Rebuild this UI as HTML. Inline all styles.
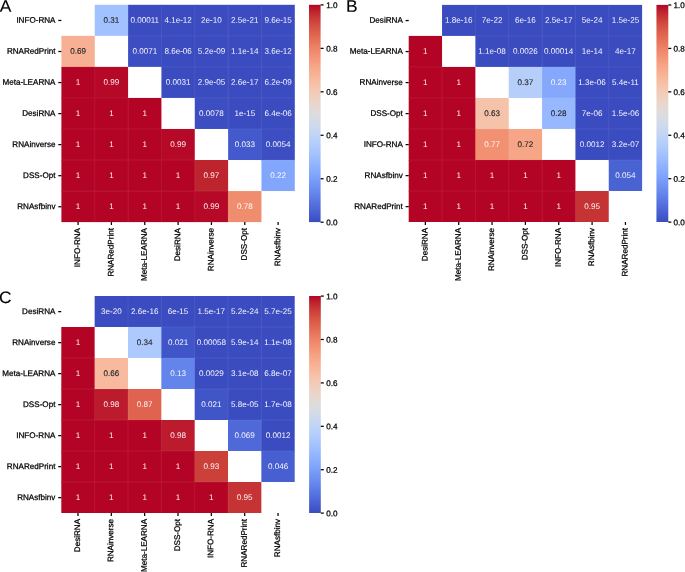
<!DOCTYPE html>
<html><head><meta charset="utf-8"><title>heatmaps</title>
<style>
html,body{margin:0;padding:0;background:#fff;}
body{width:685px;height:572px;overflow:hidden;font-family:"Liberation Sans",sans-serif;}
svg{display:block;text-rendering:geometricPrecision;font-family:"Liberation Sans",sans-serif;font-size:8.10px;}
</style></head><body>
<svg width="685" height="572" viewBox="0 0 685 572">
<defs><filter id="nf" x="0" y="0" width="685" height="572" filterUnits="userSpaceOnUse" color-interpolation-filters="sRGB"><feOffset dx="0" dy="0"/></filter><linearGradient id="cw" x1="0" y1="0" x2="0" y2="1"><stop offset="0.0000" stop-color="#b40426"/><stop offset="0.0312" stop-color="#be242e"/><stop offset="0.0625" stop-color="#ca3b37"/><stop offset="0.0938" stop-color="#d44e41"/><stop offset="0.1250" stop-color="#dd5f4b"/><stop offset="0.1562" stop-color="#e46e56"/><stop offset="0.1875" stop-color="#eb7d62"/><stop offset="0.2188" stop-color="#f08b6e"/><stop offset="0.2500" stop-color="#f4987a"/><stop offset="0.2812" stop-color="#f6a586"/><stop offset="0.3125" stop-color="#f7b093"/><stop offset="0.3438" stop-color="#f7ba9f"/><stop offset="0.3750" stop-color="#f5c4ac"/><stop offset="0.4062" stop-color="#f1ccb8"/><stop offset="0.4375" stop-color="#ecd3c5"/><stop offset="0.4688" stop-color="#e5d8d1"/><stop offset="0.5000" stop-color="#dddcdc"/><stop offset="0.5312" stop-color="#d5dbe5"/><stop offset="0.5625" stop-color="#ccd9ed"/><stop offset="0.5938" stop-color="#c3d5f4"/><stop offset="0.6250" stop-color="#b9d0f9"/><stop offset="0.6562" stop-color="#aec9fc"/><stop offset="0.6875" stop-color="#a3c2fe"/><stop offset="0.7188" stop-color="#98b9ff"/><stop offset="0.7500" stop-color="#8db0fe"/><stop offset="0.7812" stop-color="#82a6fb"/><stop offset="0.8125" stop-color="#779af7"/><stop offset="0.8438" stop-color="#6c8ff1"/><stop offset="0.8750" stop-color="#6282ea"/><stop offset="0.9062" stop-color="#5875e1"/><stop offset="0.9375" stop-color="#4e68d8"/><stop offset="0.9688" stop-color="#445acc"/><stop offset="1.0000" stop-color="#3b4cc0"/></linearGradient></defs>
<rect x="0" y="0" width="685" height="572" fill="#ffffff"/>
<g filter="url(#nf)">
<rect x="94.74" y="4.80" width="33.94" height="31.04" fill="#a2c1ff"/>
<rect x="128.09" y="4.80" width="33.94" height="31.64" fill="#3b4cc0"/>
<rect x="161.43" y="4.80" width="33.94" height="31.64" fill="#3b4cc0"/>
<rect x="194.77" y="4.80" width="33.94" height="31.64" fill="#3b4cc0"/>
<rect x="228.11" y="4.80" width="33.94" height="31.64" fill="#3b4cc0"/>
<rect x="261.46" y="4.80" width="33.34" height="31.64" fill="#3b4cc0"/>
<rect x="61.40" y="35.84" width="33.34" height="31.64" fill="#f7b093"/>
<rect x="128.09" y="35.84" width="33.94" height="31.04" fill="#3c4ec2"/>
<rect x="161.43" y="35.84" width="33.94" height="31.64" fill="#3b4cc0"/>
<rect x="194.77" y="35.84" width="33.94" height="31.64" fill="#3b4cc0"/>
<rect x="228.11" y="35.84" width="33.94" height="31.64" fill="#3b4cc0"/>
<rect x="261.46" y="35.84" width="33.34" height="31.64" fill="#3b4cc0"/>
<rect x="61.40" y="66.89" width="33.94" height="31.64" fill="#b40426"/>
<rect x="94.74" y="66.89" width="33.34" height="31.64" fill="#b50927"/>
<rect x="161.43" y="66.89" width="33.94" height="31.04" fill="#3b4cc0"/>
<rect x="194.77" y="66.89" width="33.94" height="31.64" fill="#3b4cc0"/>
<rect x="228.11" y="66.89" width="33.94" height="31.64" fill="#3b4cc0"/>
<rect x="261.46" y="66.89" width="33.34" height="31.64" fill="#3b4cc0"/>
<rect x="61.40" y="97.93" width="33.94" height="31.64" fill="#b40426"/>
<rect x="94.74" y="97.93" width="33.94" height="31.64" fill="#b40426"/>
<rect x="128.09" y="97.93" width="33.34" height="31.64" fill="#b40426"/>
<rect x="194.77" y="97.93" width="33.94" height="31.04" fill="#3c4ec2"/>
<rect x="228.11" y="97.93" width="33.94" height="31.64" fill="#3b4cc0"/>
<rect x="261.46" y="97.93" width="33.34" height="31.64" fill="#3b4cc0"/>
<rect x="61.40" y="128.97" width="33.94" height="31.64" fill="#b40426"/>
<rect x="94.74" y="128.97" width="33.94" height="31.64" fill="#b40426"/>
<rect x="128.09" y="128.97" width="33.94" height="31.64" fill="#b40426"/>
<rect x="161.43" y="128.97" width="33.34" height="31.64" fill="#b50927"/>
<rect x="228.11" y="128.97" width="33.94" height="31.04" fill="#445acc"/>
<rect x="261.46" y="128.97" width="33.34" height="31.64" fill="#3c4ec2"/>
<rect x="61.40" y="160.01" width="33.94" height="31.64" fill="#b40426"/>
<rect x="94.74" y="160.01" width="33.94" height="31.64" fill="#b40426"/>
<rect x="128.09" y="160.01" width="33.94" height="31.64" fill="#b40426"/>
<rect x="161.43" y="160.01" width="33.94" height="31.64" fill="#b40426"/>
<rect x="194.77" y="160.01" width="33.34" height="31.64" fill="#be242e"/>
<rect x="261.46" y="160.01" width="33.34" height="31.04" fill="#82a6fb"/>
<rect x="61.40" y="191.06" width="33.94" height="31.04" fill="#b40426"/>
<rect x="94.74" y="191.06" width="33.94" height="31.04" fill="#b40426"/>
<rect x="128.09" y="191.06" width="33.94" height="31.04" fill="#b40426"/>
<rect x="161.43" y="191.06" width="33.94" height="31.04" fill="#b40426"/>
<rect x="194.77" y="191.06" width="33.94" height="31.04" fill="#b50927"/>
<rect x="228.11" y="191.06" width="33.34" height="31.04" fill="#f18d6f"/>
<text transform="matrix(1 0.001 0 1 111.41 22.77)" text-anchor="middle" fill="#262626" stroke="#262626" stroke-width="0.12">0.31</text>
<text transform="matrix(1 0.001 0 1 144.76 22.77)" text-anchor="middle" fill="#ffffff" fill-opacity="0.95">0.00011</text>
<text transform="matrix(1 0.001 0 1 178.10 22.77)" text-anchor="middle" fill="#ffffff" fill-opacity="0.95">4.1e-12</text>
<text transform="matrix(1 0.001 0 1 211.44 22.77)" text-anchor="middle" fill="#ffffff" fill-opacity="0.95">2e-10</text>
<text transform="matrix(1 0.001 0 1 244.79 22.77)" text-anchor="middle" fill="#ffffff" fill-opacity="0.95">2.5e-21</text>
<text transform="matrix(1 0.001 0 1 278.13 22.77)" text-anchor="middle" fill="#ffffff" fill-opacity="0.95">9.6e-15</text>
<text transform="matrix(1 0.001 0 1 78.07 53.81)" text-anchor="middle" fill="#262626" stroke="#262626" stroke-width="0.12">0.69</text>
<text transform="matrix(1 0.001 0 1 144.76 53.81)" text-anchor="middle" fill="#ffffff" fill-opacity="0.95">0.0071</text>
<text transform="matrix(1 0.001 0 1 178.10 53.81)" text-anchor="middle" fill="#ffffff" fill-opacity="0.95">8.6e-06</text>
<text transform="matrix(1 0.001 0 1 211.44 53.81)" text-anchor="middle" fill="#ffffff" fill-opacity="0.95">5.2e-09</text>
<text transform="matrix(1 0.001 0 1 244.79 53.81)" text-anchor="middle" fill="#ffffff" fill-opacity="0.95">1.1e-14</text>
<text transform="matrix(1 0.001 0 1 278.13 53.81)" text-anchor="middle" fill="#ffffff" fill-opacity="0.95">3.6e-12</text>
<text transform="matrix(1 0.001 0 1 78.07 84.86)" text-anchor="middle" fill="#ffffff" fill-opacity="0.95">1</text>
<text transform="matrix(1 0.001 0 1 111.41 84.86)" text-anchor="middle" fill="#ffffff" fill-opacity="0.95">0.99</text>
<text transform="matrix(1 0.001 0 1 178.10 84.86)" text-anchor="middle" fill="#ffffff" fill-opacity="0.95">0.0031</text>
<text transform="matrix(1 0.001 0 1 211.44 84.86)" text-anchor="middle" fill="#ffffff" fill-opacity="0.95">2.9e-05</text>
<text transform="matrix(1 0.001 0 1 244.79 84.86)" text-anchor="middle" fill="#ffffff" fill-opacity="0.95">2.6e-17</text>
<text transform="matrix(1 0.001 0 1 278.13 84.86)" text-anchor="middle" fill="#ffffff" fill-opacity="0.95">6.2e-09</text>
<text transform="matrix(1 0.001 0 1 78.07 115.90)" text-anchor="middle" fill="#ffffff" fill-opacity="0.95">1</text>
<text transform="matrix(1 0.001 0 1 111.41 115.90)" text-anchor="middle" fill="#ffffff" fill-opacity="0.95">1</text>
<text transform="matrix(1 0.001 0 1 144.76 115.90)" text-anchor="middle" fill="#ffffff" fill-opacity="0.95">1</text>
<text transform="matrix(1 0.001 0 1 211.44 115.90)" text-anchor="middle" fill="#ffffff" fill-opacity="0.95">0.0078</text>
<text transform="matrix(1 0.001 0 1 244.79 115.90)" text-anchor="middle" fill="#ffffff" fill-opacity="0.95">1e-15</text>
<text transform="matrix(1 0.001 0 1 278.13 115.90)" text-anchor="middle" fill="#ffffff" fill-opacity="0.95">6.4e-06</text>
<text transform="matrix(1 0.001 0 1 78.07 146.94)" text-anchor="middle" fill="#ffffff" fill-opacity="0.95">1</text>
<text transform="matrix(1 0.001 0 1 111.41 146.94)" text-anchor="middle" fill="#ffffff" fill-opacity="0.95">1</text>
<text transform="matrix(1 0.001 0 1 144.76 146.94)" text-anchor="middle" fill="#ffffff" fill-opacity="0.95">1</text>
<text transform="matrix(1 0.001 0 1 178.10 146.94)" text-anchor="middle" fill="#ffffff" fill-opacity="0.95">0.99</text>
<text transform="matrix(1 0.001 0 1 244.79 146.94)" text-anchor="middle" fill="#ffffff" fill-opacity="0.95">0.033</text>
<text transform="matrix(1 0.001 0 1 278.13 146.94)" text-anchor="middle" fill="#ffffff" fill-opacity="0.95">0.0054</text>
<text transform="matrix(1 0.001 0 1 78.07 177.99)" text-anchor="middle" fill="#ffffff" fill-opacity="0.95">1</text>
<text transform="matrix(1 0.001 0 1 111.41 177.99)" text-anchor="middle" fill="#ffffff" fill-opacity="0.95">1</text>
<text transform="matrix(1 0.001 0 1 144.76 177.99)" text-anchor="middle" fill="#ffffff" fill-opacity="0.95">1</text>
<text transform="matrix(1 0.001 0 1 178.10 177.99)" text-anchor="middle" fill="#ffffff" fill-opacity="0.95">1</text>
<text transform="matrix(1 0.001 0 1 211.44 177.99)" text-anchor="middle" fill="#ffffff" fill-opacity="0.95">0.97</text>
<text transform="matrix(1 0.001 0 1 278.13 177.99)" text-anchor="middle" fill="#ffffff" fill-opacity="0.95">0.22</text>
<text transform="matrix(1 0.001 0 1 78.07 209.03)" text-anchor="middle" fill="#ffffff" fill-opacity="0.95">1</text>
<text transform="matrix(1 0.001 0 1 111.41 209.03)" text-anchor="middle" fill="#ffffff" fill-opacity="0.95">1</text>
<text transform="matrix(1 0.001 0 1 144.76 209.03)" text-anchor="middle" fill="#ffffff" fill-opacity="0.95">1</text>
<text transform="matrix(1 0.001 0 1 178.10 209.03)" text-anchor="middle" fill="#ffffff" fill-opacity="0.95">1</text>
<text transform="matrix(1 0.001 0 1 211.44 209.03)" text-anchor="middle" fill="#ffffff" fill-opacity="0.95">0.99</text>
<text transform="matrix(1 0.001 0 1 244.79 209.03)" text-anchor="middle" fill="#ffffff" fill-opacity="0.95">0.78</text>
<line x1="128.09" y1="4.80" x2="128.09" y2="35.84" stroke="#fff" stroke-opacity="0.07" stroke-width="1"/>
<line x1="161.43" y1="4.80" x2="161.43" y2="35.84" stroke="#fff" stroke-opacity="0.07" stroke-width="1"/>
<line x1="128.09" y1="35.84" x2="161.43" y2="35.84" stroke="#fff" stroke-opacity="0.07" stroke-width="1"/>
<line x1="194.77" y1="4.80" x2="194.77" y2="35.84" stroke="#fff" stroke-opacity="0.07" stroke-width="1"/>
<line x1="161.43" y1="35.84" x2="194.77" y2="35.84" stroke="#fff" stroke-opacity="0.07" stroke-width="1"/>
<line x1="228.11" y1="4.80" x2="228.11" y2="35.84" stroke="#fff" stroke-opacity="0.07" stroke-width="1"/>
<line x1="194.77" y1="35.84" x2="228.11" y2="35.84" stroke="#fff" stroke-opacity="0.07" stroke-width="1"/>
<line x1="261.46" y1="4.80" x2="261.46" y2="35.84" stroke="#fff" stroke-opacity="0.07" stroke-width="1"/>
<line x1="228.11" y1="35.84" x2="261.46" y2="35.84" stroke="#fff" stroke-opacity="0.07" stroke-width="1"/>
<line x1="261.46" y1="35.84" x2="294.80" y2="35.84" stroke="#fff" stroke-opacity="0.07" stroke-width="1"/>
<line x1="61.40" y1="66.89" x2="94.74" y2="66.89" stroke="#fff" stroke-opacity="0.07" stroke-width="1"/>
<line x1="161.43" y1="35.84" x2="161.43" y2="66.89" stroke="#fff" stroke-opacity="0.07" stroke-width="1"/>
<line x1="194.77" y1="35.84" x2="194.77" y2="66.89" stroke="#fff" stroke-opacity="0.07" stroke-width="1"/>
<line x1="161.43" y1="66.89" x2="194.77" y2="66.89" stroke="#fff" stroke-opacity="0.07" stroke-width="1"/>
<line x1="228.11" y1="35.84" x2="228.11" y2="66.89" stroke="#fff" stroke-opacity="0.07" stroke-width="1"/>
<line x1="194.77" y1="66.89" x2="228.11" y2="66.89" stroke="#fff" stroke-opacity="0.07" stroke-width="1"/>
<line x1="261.46" y1="35.84" x2="261.46" y2="66.89" stroke="#fff" stroke-opacity="0.07" stroke-width="1"/>
<line x1="228.11" y1="66.89" x2="261.46" y2="66.89" stroke="#fff" stroke-opacity="0.07" stroke-width="1"/>
<line x1="261.46" y1="66.89" x2="294.80" y2="66.89" stroke="#fff" stroke-opacity="0.07" stroke-width="1"/>
<line x1="94.74" y1="66.89" x2="94.74" y2="97.93" stroke="#fff" stroke-opacity="0.07" stroke-width="1"/>
<line x1="61.40" y1="97.93" x2="94.74" y2="97.93" stroke="#fff" stroke-opacity="0.07" stroke-width="1"/>
<line x1="94.74" y1="97.93" x2="128.09" y2="97.93" stroke="#fff" stroke-opacity="0.07" stroke-width="1"/>
<line x1="194.77" y1="66.89" x2="194.77" y2="97.93" stroke="#fff" stroke-opacity="0.07" stroke-width="1"/>
<line x1="228.11" y1="66.89" x2="228.11" y2="97.93" stroke="#fff" stroke-opacity="0.07" stroke-width="1"/>
<line x1="194.77" y1="97.93" x2="228.11" y2="97.93" stroke="#fff" stroke-opacity="0.07" stroke-width="1"/>
<line x1="261.46" y1="66.89" x2="261.46" y2="97.93" stroke="#fff" stroke-opacity="0.07" stroke-width="1"/>
<line x1="228.11" y1="97.93" x2="261.46" y2="97.93" stroke="#fff" stroke-opacity="0.07" stroke-width="1"/>
<line x1="261.46" y1="97.93" x2="294.80" y2="97.93" stroke="#fff" stroke-opacity="0.07" stroke-width="1"/>
<line x1="94.74" y1="97.93" x2="94.74" y2="128.97" stroke="#fff" stroke-opacity="0.07" stroke-width="1"/>
<line x1="61.40" y1="128.97" x2="94.74" y2="128.97" stroke="#fff" stroke-opacity="0.07" stroke-width="1"/>
<line x1="128.09" y1="97.93" x2="128.09" y2="128.97" stroke="#fff" stroke-opacity="0.07" stroke-width="1"/>
<line x1="94.74" y1="128.97" x2="128.09" y2="128.97" stroke="#fff" stroke-opacity="0.07" stroke-width="1"/>
<line x1="128.09" y1="128.97" x2="161.43" y2="128.97" stroke="#fff" stroke-opacity="0.07" stroke-width="1"/>
<line x1="228.11" y1="97.93" x2="228.11" y2="128.97" stroke="#fff" stroke-opacity="0.07" stroke-width="1"/>
<line x1="261.46" y1="97.93" x2="261.46" y2="128.97" stroke="#fff" stroke-opacity="0.07" stroke-width="1"/>
<line x1="228.11" y1="128.97" x2="261.46" y2="128.97" stroke="#fff" stroke-opacity="0.07" stroke-width="1"/>
<line x1="261.46" y1="128.97" x2="294.80" y2="128.97" stroke="#fff" stroke-opacity="0.07" stroke-width="1"/>
<line x1="94.74" y1="128.97" x2="94.74" y2="160.01" stroke="#fff" stroke-opacity="0.07" stroke-width="1"/>
<line x1="61.40" y1="160.01" x2="94.74" y2="160.01" stroke="#fff" stroke-opacity="0.07" stroke-width="1"/>
<line x1="128.09" y1="128.97" x2="128.09" y2="160.01" stroke="#fff" stroke-opacity="0.07" stroke-width="1"/>
<line x1="94.74" y1="160.01" x2="128.09" y2="160.01" stroke="#fff" stroke-opacity="0.07" stroke-width="1"/>
<line x1="161.43" y1="128.97" x2="161.43" y2="160.01" stroke="#fff" stroke-opacity="0.07" stroke-width="1"/>
<line x1="128.09" y1="160.01" x2="161.43" y2="160.01" stroke="#fff" stroke-opacity="0.07" stroke-width="1"/>
<line x1="161.43" y1="160.01" x2="194.77" y2="160.01" stroke="#fff" stroke-opacity="0.07" stroke-width="1"/>
<line x1="261.46" y1="128.97" x2="261.46" y2="160.01" stroke="#fff" stroke-opacity="0.07" stroke-width="1"/>
<line x1="261.46" y1="160.01" x2="294.80" y2="160.01" stroke="#fff" stroke-opacity="0.07" stroke-width="1"/>
<line x1="94.74" y1="160.01" x2="94.74" y2="191.06" stroke="#fff" stroke-opacity="0.07" stroke-width="1"/>
<line x1="61.40" y1="191.06" x2="94.74" y2="191.06" stroke="#fff" stroke-opacity="0.07" stroke-width="1"/>
<line x1="128.09" y1="160.01" x2="128.09" y2="191.06" stroke="#fff" stroke-opacity="0.07" stroke-width="1"/>
<line x1="94.74" y1="191.06" x2="128.09" y2="191.06" stroke="#fff" stroke-opacity="0.07" stroke-width="1"/>
<line x1="161.43" y1="160.01" x2="161.43" y2="191.06" stroke="#fff" stroke-opacity="0.07" stroke-width="1"/>
<line x1="128.09" y1="191.06" x2="161.43" y2="191.06" stroke="#fff" stroke-opacity="0.07" stroke-width="1"/>
<line x1="194.77" y1="160.01" x2="194.77" y2="191.06" stroke="#fff" stroke-opacity="0.07" stroke-width="1"/>
<line x1="161.43" y1="191.06" x2="194.77" y2="191.06" stroke="#fff" stroke-opacity="0.07" stroke-width="1"/>
<line x1="194.77" y1="191.06" x2="228.11" y2="191.06" stroke="#fff" stroke-opacity="0.07" stroke-width="1"/>
<line x1="94.74" y1="191.06" x2="94.74" y2="222.10" stroke="#fff" stroke-opacity="0.07" stroke-width="1"/>
<line x1="128.09" y1="191.06" x2="128.09" y2="222.10" stroke="#fff" stroke-opacity="0.07" stroke-width="1"/>
<line x1="161.43" y1="191.06" x2="161.43" y2="222.10" stroke="#fff" stroke-opacity="0.07" stroke-width="1"/>
<line x1="194.77" y1="191.06" x2="194.77" y2="222.10" stroke="#fff" stroke-opacity="0.07" stroke-width="1"/>
<line x1="228.11" y1="191.06" x2="228.11" y2="222.10" stroke="#fff" stroke-opacity="0.07" stroke-width="1"/>
<line x1="58.30" y1="20.47" x2="61.40" y2="20.47" stroke="#000" stroke-width="1.25"/>
<text transform="matrix(1 0.001 0 1 55.50 22.77)" text-anchor="end" fill="#000" stroke="#000" stroke-width="0.25">INFO-RNA</text>
<line x1="58.30" y1="51.51" x2="61.40" y2="51.51" stroke="#000" stroke-width="1.25"/>
<text transform="matrix(1 0.001 0 1 55.50 53.81)" text-anchor="end" fill="#000" stroke="#000" stroke-width="0.25">RNARedPrint</text>
<line x1="58.30" y1="82.56" x2="61.40" y2="82.56" stroke="#000" stroke-width="1.25"/>
<text transform="matrix(1 0.001 0 1 55.50 84.86)" text-anchor="end" fill="#000" stroke="#000" stroke-width="0.25">Meta-LEARNA</text>
<line x1="58.30" y1="113.60" x2="61.40" y2="113.60" stroke="#000" stroke-width="1.25"/>
<text transform="matrix(1 0.001 0 1 55.50 115.90)" text-anchor="end" fill="#000" stroke="#000" stroke-width="0.25">DesiRNA</text>
<line x1="58.30" y1="144.64" x2="61.40" y2="144.64" stroke="#000" stroke-width="1.25"/>
<text transform="matrix(1 0.001 0 1 55.50 146.94)" text-anchor="end" fill="#000" stroke="#000" stroke-width="0.25">RNAinverse</text>
<line x1="58.30" y1="175.69" x2="61.40" y2="175.69" stroke="#000" stroke-width="1.25"/>
<text transform="matrix(1 0.001 0 1 55.50 177.99)" text-anchor="end" fill="#000" stroke="#000" stroke-width="0.25">DSS-Opt</text>
<line x1="58.30" y1="206.73" x2="61.40" y2="206.73" stroke="#000" stroke-width="1.25"/>
<text transform="matrix(1 0.001 0 1 55.50 209.03)" text-anchor="end" fill="#000" stroke="#000" stroke-width="0.25">RNAsfbinv</text>
<line x1="78.07" y1="222.10" x2="78.07" y2="225.00" stroke="#000" stroke-width="1.25"/>
<text transform="translate(80.12,228.00) rotate(-90) matrix(1 0.001 0 1 0 0)" text-anchor="end" fill="#000" stroke="#000" stroke-width="0.25">INFO-RNA</text>
<line x1="111.41" y1="222.10" x2="111.41" y2="225.00" stroke="#000" stroke-width="1.25"/>
<text transform="translate(113.46,228.00) rotate(-90) matrix(1 0.001 0 1 0 0)" text-anchor="end" fill="#000" stroke="#000" stroke-width="0.25">RNARedPrint</text>
<line x1="144.76" y1="222.10" x2="144.76" y2="225.00" stroke="#000" stroke-width="1.25"/>
<text transform="translate(146.81,228.00) rotate(-90) matrix(1 0.001 0 1 0 0)" text-anchor="end" fill="#000" stroke="#000" stroke-width="0.25">Meta-LEARNA</text>
<line x1="178.10" y1="222.10" x2="178.10" y2="225.00" stroke="#000" stroke-width="1.25"/>
<text transform="translate(180.15,228.00) rotate(-90) matrix(1 0.001 0 1 0 0)" text-anchor="end" fill="#000" stroke="#000" stroke-width="0.25">DesiRNA</text>
<line x1="211.44" y1="222.10" x2="211.44" y2="225.00" stroke="#000" stroke-width="1.25"/>
<text transform="translate(213.49,228.00) rotate(-90) matrix(1 0.001 0 1 0 0)" text-anchor="end" fill="#000" stroke="#000" stroke-width="0.25">RNAinverse</text>
<line x1="244.79" y1="222.10" x2="244.79" y2="225.00" stroke="#000" stroke-width="1.25"/>
<text transform="translate(246.84,228.00) rotate(-90) matrix(1 0.001 0 1 0 0)" text-anchor="end" fill="#000" stroke="#000" stroke-width="0.25">DSS-Opt</text>
<line x1="278.13" y1="222.10" x2="278.13" y2="225.00" stroke="#000" stroke-width="1.25"/>
<text transform="translate(280.18,228.00) rotate(-90) matrix(1 0.001 0 1 0 0)" text-anchor="end" fill="#000" stroke="#000" stroke-width="0.25">RNAsfbinv</text>
<rect x="309.00" y="4.80" width="11.60" height="217.30" fill="url(#cw)"/>
<line x1="320.60" y1="222.20" x2="323.60" y2="222.20" stroke="#000" stroke-width="1.25"/>
<text transform="matrix(1 0.001 0 1 326.20 225.25)" text-anchor="start" fill="#000" stroke="#000" stroke-width="0.25" font-size="8.15">0.0</text>
<line x1="320.60" y1="178.74" x2="323.60" y2="178.74" stroke="#000" stroke-width="1.25"/>
<text transform="matrix(1 0.001 0 1 326.20 181.79)" text-anchor="start" fill="#000" stroke="#000" stroke-width="0.25" font-size="8.15">0.2</text>
<line x1="320.60" y1="135.28" x2="323.60" y2="135.28" stroke="#000" stroke-width="1.25"/>
<text transform="matrix(1 0.001 0 1 326.20 138.33)" text-anchor="start" fill="#000" stroke="#000" stroke-width="0.25" font-size="8.15">0.4</text>
<line x1="320.60" y1="91.82" x2="323.60" y2="91.82" stroke="#000" stroke-width="1.25"/>
<text transform="matrix(1 0.001 0 1 326.20 94.87)" text-anchor="start" fill="#000" stroke="#000" stroke-width="0.25" font-size="8.15">0.6</text>
<line x1="320.60" y1="48.36" x2="323.60" y2="48.36" stroke="#000" stroke-width="1.25"/>
<text transform="matrix(1 0.001 0 1 326.20 51.41)" text-anchor="start" fill="#000" stroke="#000" stroke-width="0.25" font-size="8.15">0.8</text>
<line x1="320.60" y1="4.90" x2="323.60" y2="4.90" stroke="#000" stroke-width="1.25"/>
<text transform="matrix(1 0.001 0 1 326.20 7.95)" text-anchor="start" fill="#000" stroke="#000" stroke-width="0.25" font-size="8.15">1.0</text>
<text transform="matrix(1.05 0.001 0 1 -0.25 11.75)" font-size="16.6" fill="#000" stroke="#000" stroke-width="0.1">A</text>
<rect x="442.04" y="4.90" width="33.94" height="31.01" fill="#3b4cc0"/>
<rect x="475.39" y="4.90" width="33.94" height="31.61" fill="#3b4cc0"/>
<rect x="508.73" y="4.90" width="33.94" height="31.61" fill="#3b4cc0"/>
<rect x="542.07" y="4.90" width="33.94" height="31.61" fill="#3b4cc0"/>
<rect x="575.41" y="4.90" width="33.94" height="31.61" fill="#3b4cc0"/>
<rect x="608.76" y="4.90" width="33.34" height="31.61" fill="#3b4cc0"/>
<rect x="408.70" y="35.91" width="33.34" height="31.61" fill="#b40426"/>
<rect x="475.39" y="35.91" width="33.94" height="31.01" fill="#3b4cc0"/>
<rect x="508.73" y="35.91" width="33.94" height="31.61" fill="#3b4cc0"/>
<rect x="542.07" y="35.91" width="33.94" height="31.61" fill="#3b4cc0"/>
<rect x="575.41" y="35.91" width="33.94" height="31.61" fill="#3b4cc0"/>
<rect x="608.76" y="35.91" width="33.34" height="31.61" fill="#3b4cc0"/>
<rect x="408.70" y="66.93" width="33.94" height="31.61" fill="#b40426"/>
<rect x="442.04" y="66.93" width="33.34" height="31.61" fill="#b40426"/>
<rect x="508.73" y="66.93" width="33.94" height="31.01" fill="#b6cefa"/>
<rect x="542.07" y="66.93" width="33.94" height="31.61" fill="#85a8fc"/>
<rect x="575.41" y="66.93" width="33.94" height="31.61" fill="#3b4cc0"/>
<rect x="608.76" y="66.93" width="33.34" height="31.61" fill="#3b4cc0"/>
<rect x="408.70" y="97.94" width="33.94" height="31.61" fill="#b40426"/>
<rect x="442.04" y="97.94" width="33.94" height="31.61" fill="#b40426"/>
<rect x="475.39" y="97.94" width="33.34" height="31.61" fill="#f5c2aa"/>
<rect x="542.07" y="97.94" width="33.94" height="31.01" fill="#97b8ff"/>
<rect x="575.41" y="97.94" width="33.94" height="31.61" fill="#3b4cc0"/>
<rect x="608.76" y="97.94" width="33.34" height="31.61" fill="#3b4cc0"/>
<rect x="408.70" y="128.96" width="33.94" height="31.61" fill="#b40426"/>
<rect x="442.04" y="128.96" width="33.94" height="31.61" fill="#b40426"/>
<rect x="475.39" y="128.96" width="33.94" height="31.61" fill="#f29072"/>
<rect x="508.73" y="128.96" width="33.34" height="31.61" fill="#f6a586"/>
<rect x="575.41" y="128.96" width="33.94" height="31.01" fill="#3b4cc0"/>
<rect x="608.76" y="128.96" width="33.34" height="31.61" fill="#3b4cc0"/>
<rect x="408.70" y="159.97" width="33.94" height="31.61" fill="#b40426"/>
<rect x="442.04" y="159.97" width="33.94" height="31.61" fill="#b40426"/>
<rect x="475.39" y="159.97" width="33.94" height="31.61" fill="#b40426"/>
<rect x="508.73" y="159.97" width="33.94" height="31.61" fill="#b40426"/>
<rect x="542.07" y="159.97" width="33.34" height="31.61" fill="#b40426"/>
<rect x="608.76" y="159.97" width="33.34" height="31.01" fill="#4a63d3"/>
<rect x="408.70" y="190.99" width="33.94" height="31.01" fill="#b40426"/>
<rect x="442.04" y="190.99" width="33.94" height="31.01" fill="#b40426"/>
<rect x="475.39" y="190.99" width="33.94" height="31.01" fill="#b40426"/>
<rect x="508.73" y="190.99" width="33.94" height="31.01" fill="#b40426"/>
<rect x="542.07" y="190.99" width="33.94" height="31.01" fill="#b40426"/>
<rect x="575.41" y="190.99" width="33.34" height="31.01" fill="#c53334"/>
<text transform="matrix(1 0.001 0 1 458.71 22.86)" text-anchor="middle" fill="#ffffff" fill-opacity="0.95">1.8e-16</text>
<text transform="matrix(1 0.001 0 1 492.06 22.86)" text-anchor="middle" fill="#ffffff" fill-opacity="0.95">7e-22</text>
<text transform="matrix(1 0.001 0 1 525.40 22.86)" text-anchor="middle" fill="#ffffff" fill-opacity="0.95">6e-16</text>
<text transform="matrix(1 0.001 0 1 558.74 22.86)" text-anchor="middle" fill="#ffffff" fill-opacity="0.95">2.5e-17</text>
<text transform="matrix(1 0.001 0 1 592.09 22.86)" text-anchor="middle" fill="#ffffff" fill-opacity="0.95">5e-24</text>
<text transform="matrix(1 0.001 0 1 625.43 22.86)" text-anchor="middle" fill="#ffffff" fill-opacity="0.95">1.5e-25</text>
<text transform="matrix(1 0.001 0 1 425.37 53.87)" text-anchor="middle" fill="#ffffff" fill-opacity="0.95">1</text>
<text transform="matrix(1 0.001 0 1 492.06 53.87)" text-anchor="middle" fill="#ffffff" fill-opacity="0.95">1.1e-08</text>
<text transform="matrix(1 0.001 0 1 525.40 53.87)" text-anchor="middle" fill="#ffffff" fill-opacity="0.95">0.0026</text>
<text transform="matrix(1 0.001 0 1 558.74 53.87)" text-anchor="middle" fill="#ffffff" fill-opacity="0.95">0.00014</text>
<text transform="matrix(1 0.001 0 1 592.09 53.87)" text-anchor="middle" fill="#ffffff" fill-opacity="0.95">1e-14</text>
<text transform="matrix(1 0.001 0 1 625.43 53.87)" text-anchor="middle" fill="#ffffff" fill-opacity="0.95">4e-17</text>
<text transform="matrix(1 0.001 0 1 425.37 84.89)" text-anchor="middle" fill="#ffffff" fill-opacity="0.95">1</text>
<text transform="matrix(1 0.001 0 1 458.71 84.89)" text-anchor="middle" fill="#ffffff" fill-opacity="0.95">1</text>
<text transform="matrix(1 0.001 0 1 525.40 84.89)" text-anchor="middle" fill="#262626" stroke="#262626" stroke-width="0.12">0.37</text>
<text transform="matrix(1 0.001 0 1 558.74 84.89)" text-anchor="middle" fill="#ffffff" fill-opacity="0.95">0.23</text>
<text transform="matrix(1 0.001 0 1 592.09 84.89)" text-anchor="middle" fill="#ffffff" fill-opacity="0.95">1.3e-06</text>
<text transform="matrix(1 0.001 0 1 625.43 84.89)" text-anchor="middle" fill="#ffffff" fill-opacity="0.95">5.4e-11</text>
<text transform="matrix(1 0.001 0 1 425.37 115.90)" text-anchor="middle" fill="#ffffff" fill-opacity="0.95">1</text>
<text transform="matrix(1 0.001 0 1 458.71 115.90)" text-anchor="middle" fill="#ffffff" fill-opacity="0.95">1</text>
<text transform="matrix(1 0.001 0 1 492.06 115.90)" text-anchor="middle" fill="#262626" stroke="#262626" stroke-width="0.12">0.63</text>
<text transform="matrix(1 0.001 0 1 558.74 115.90)" text-anchor="middle" fill="#262626" stroke="#262626" stroke-width="0.12">0.28</text>
<text transform="matrix(1 0.001 0 1 592.09 115.90)" text-anchor="middle" fill="#ffffff" fill-opacity="0.95">7e-06</text>
<text transform="matrix(1 0.001 0 1 625.43 115.90)" text-anchor="middle" fill="#ffffff" fill-opacity="0.95">1.5e-06</text>
<text transform="matrix(1 0.001 0 1 425.37 146.91)" text-anchor="middle" fill="#ffffff" fill-opacity="0.95">1</text>
<text transform="matrix(1 0.001 0 1 458.71 146.91)" text-anchor="middle" fill="#ffffff" fill-opacity="0.95">1</text>
<text transform="matrix(1 0.001 0 1 492.06 146.91)" text-anchor="middle" fill="#ffffff" fill-opacity="0.95">0.77</text>
<text transform="matrix(1 0.001 0 1 525.40 146.91)" text-anchor="middle" fill="#262626" stroke="#262626" stroke-width="0.12">0.72</text>
<text transform="matrix(1 0.001 0 1 592.09 146.91)" text-anchor="middle" fill="#ffffff" fill-opacity="0.95">0.0012</text>
<text transform="matrix(1 0.001 0 1 625.43 146.91)" text-anchor="middle" fill="#ffffff" fill-opacity="0.95">3.2e-07</text>
<text transform="matrix(1 0.001 0 1 425.37 177.93)" text-anchor="middle" fill="#ffffff" fill-opacity="0.95">1</text>
<text transform="matrix(1 0.001 0 1 458.71 177.93)" text-anchor="middle" fill="#ffffff" fill-opacity="0.95">1</text>
<text transform="matrix(1 0.001 0 1 492.06 177.93)" text-anchor="middle" fill="#ffffff" fill-opacity="0.95">1</text>
<text transform="matrix(1 0.001 0 1 525.40 177.93)" text-anchor="middle" fill="#ffffff" fill-opacity="0.95">1</text>
<text transform="matrix(1 0.001 0 1 558.74 177.93)" text-anchor="middle" fill="#ffffff" fill-opacity="0.95">1</text>
<text transform="matrix(1 0.001 0 1 625.43 177.93)" text-anchor="middle" fill="#ffffff" fill-opacity="0.95">0.054</text>
<text transform="matrix(1 0.001 0 1 425.37 208.94)" text-anchor="middle" fill="#ffffff" fill-opacity="0.95">1</text>
<text transform="matrix(1 0.001 0 1 458.71 208.94)" text-anchor="middle" fill="#ffffff" fill-opacity="0.95">1</text>
<text transform="matrix(1 0.001 0 1 492.06 208.94)" text-anchor="middle" fill="#ffffff" fill-opacity="0.95">1</text>
<text transform="matrix(1 0.001 0 1 525.40 208.94)" text-anchor="middle" fill="#ffffff" fill-opacity="0.95">1</text>
<text transform="matrix(1 0.001 0 1 558.74 208.94)" text-anchor="middle" fill="#ffffff" fill-opacity="0.95">1</text>
<text transform="matrix(1 0.001 0 1 592.09 208.94)" text-anchor="middle" fill="#ffffff" fill-opacity="0.95">0.95</text>
<line x1="475.39" y1="4.90" x2="475.39" y2="35.91" stroke="#fff" stroke-opacity="0.07" stroke-width="1"/>
<line x1="508.73" y1="4.90" x2="508.73" y2="35.91" stroke="#fff" stroke-opacity="0.07" stroke-width="1"/>
<line x1="475.39" y1="35.91" x2="508.73" y2="35.91" stroke="#fff" stroke-opacity="0.07" stroke-width="1"/>
<line x1="542.07" y1="4.90" x2="542.07" y2="35.91" stroke="#fff" stroke-opacity="0.07" stroke-width="1"/>
<line x1="508.73" y1="35.91" x2="542.07" y2="35.91" stroke="#fff" stroke-opacity="0.07" stroke-width="1"/>
<line x1="575.41" y1="4.90" x2="575.41" y2="35.91" stroke="#fff" stroke-opacity="0.07" stroke-width="1"/>
<line x1="542.07" y1="35.91" x2="575.41" y2="35.91" stroke="#fff" stroke-opacity="0.07" stroke-width="1"/>
<line x1="608.76" y1="4.90" x2="608.76" y2="35.91" stroke="#fff" stroke-opacity="0.07" stroke-width="1"/>
<line x1="575.41" y1="35.91" x2="608.76" y2="35.91" stroke="#fff" stroke-opacity="0.07" stroke-width="1"/>
<line x1="608.76" y1="35.91" x2="642.10" y2="35.91" stroke="#fff" stroke-opacity="0.07" stroke-width="1"/>
<line x1="408.70" y1="66.93" x2="442.04" y2="66.93" stroke="#fff" stroke-opacity="0.07" stroke-width="1"/>
<line x1="508.73" y1="35.91" x2="508.73" y2="66.93" stroke="#fff" stroke-opacity="0.07" stroke-width="1"/>
<line x1="542.07" y1="35.91" x2="542.07" y2="66.93" stroke="#fff" stroke-opacity="0.07" stroke-width="1"/>
<line x1="508.73" y1="66.93" x2="542.07" y2="66.93" stroke="#fff" stroke-opacity="0.07" stroke-width="1"/>
<line x1="575.41" y1="35.91" x2="575.41" y2="66.93" stroke="#fff" stroke-opacity="0.07" stroke-width="1"/>
<line x1="542.07" y1="66.93" x2="575.41" y2="66.93" stroke="#fff" stroke-opacity="0.07" stroke-width="1"/>
<line x1="608.76" y1="35.91" x2="608.76" y2="66.93" stroke="#fff" stroke-opacity="0.07" stroke-width="1"/>
<line x1="575.41" y1="66.93" x2="608.76" y2="66.93" stroke="#fff" stroke-opacity="0.07" stroke-width="1"/>
<line x1="608.76" y1="66.93" x2="642.10" y2="66.93" stroke="#fff" stroke-opacity="0.07" stroke-width="1"/>
<line x1="442.04" y1="66.93" x2="442.04" y2="97.94" stroke="#fff" stroke-opacity="0.07" stroke-width="1"/>
<line x1="408.70" y1="97.94" x2="442.04" y2="97.94" stroke="#fff" stroke-opacity="0.07" stroke-width="1"/>
<line x1="442.04" y1="97.94" x2="475.39" y2="97.94" stroke="#fff" stroke-opacity="0.07" stroke-width="1"/>
<line x1="542.07" y1="66.93" x2="542.07" y2="97.94" stroke="#fff" stroke-opacity="0.07" stroke-width="1"/>
<line x1="575.41" y1="66.93" x2="575.41" y2="97.94" stroke="#fff" stroke-opacity="0.07" stroke-width="1"/>
<line x1="542.07" y1="97.94" x2="575.41" y2="97.94" stroke="#fff" stroke-opacity="0.07" stroke-width="1"/>
<line x1="608.76" y1="66.93" x2="608.76" y2="97.94" stroke="#fff" stroke-opacity="0.07" stroke-width="1"/>
<line x1="575.41" y1="97.94" x2="608.76" y2="97.94" stroke="#fff" stroke-opacity="0.07" stroke-width="1"/>
<line x1="608.76" y1="97.94" x2="642.10" y2="97.94" stroke="#fff" stroke-opacity="0.07" stroke-width="1"/>
<line x1="442.04" y1="97.94" x2="442.04" y2="128.96" stroke="#fff" stroke-opacity="0.07" stroke-width="1"/>
<line x1="408.70" y1="128.96" x2="442.04" y2="128.96" stroke="#fff" stroke-opacity="0.07" stroke-width="1"/>
<line x1="475.39" y1="97.94" x2="475.39" y2="128.96" stroke="#fff" stroke-opacity="0.07" stroke-width="1"/>
<line x1="442.04" y1="128.96" x2="475.39" y2="128.96" stroke="#fff" stroke-opacity="0.07" stroke-width="1"/>
<line x1="475.39" y1="128.96" x2="508.73" y2="128.96" stroke="#fff" stroke-opacity="0.07" stroke-width="1"/>
<line x1="575.41" y1="97.94" x2="575.41" y2="128.96" stroke="#fff" stroke-opacity="0.07" stroke-width="1"/>
<line x1="608.76" y1="97.94" x2="608.76" y2="128.96" stroke="#fff" stroke-opacity="0.07" stroke-width="1"/>
<line x1="575.41" y1="128.96" x2="608.76" y2="128.96" stroke="#fff" stroke-opacity="0.07" stroke-width="1"/>
<line x1="608.76" y1="128.96" x2="642.10" y2="128.96" stroke="#fff" stroke-opacity="0.07" stroke-width="1"/>
<line x1="442.04" y1="128.96" x2="442.04" y2="159.97" stroke="#fff" stroke-opacity="0.07" stroke-width="1"/>
<line x1="408.70" y1="159.97" x2="442.04" y2="159.97" stroke="#fff" stroke-opacity="0.07" stroke-width="1"/>
<line x1="475.39" y1="128.96" x2="475.39" y2="159.97" stroke="#fff" stroke-opacity="0.07" stroke-width="1"/>
<line x1="442.04" y1="159.97" x2="475.39" y2="159.97" stroke="#fff" stroke-opacity="0.07" stroke-width="1"/>
<line x1="508.73" y1="128.96" x2="508.73" y2="159.97" stroke="#fff" stroke-opacity="0.07" stroke-width="1"/>
<line x1="475.39" y1="159.97" x2="508.73" y2="159.97" stroke="#fff" stroke-opacity="0.07" stroke-width="1"/>
<line x1="508.73" y1="159.97" x2="542.07" y2="159.97" stroke="#fff" stroke-opacity="0.07" stroke-width="1"/>
<line x1="608.76" y1="128.96" x2="608.76" y2="159.97" stroke="#fff" stroke-opacity="0.07" stroke-width="1"/>
<line x1="608.76" y1="159.97" x2="642.10" y2="159.97" stroke="#fff" stroke-opacity="0.07" stroke-width="1"/>
<line x1="442.04" y1="159.97" x2="442.04" y2="190.99" stroke="#fff" stroke-opacity="0.07" stroke-width="1"/>
<line x1="408.70" y1="190.99" x2="442.04" y2="190.99" stroke="#fff" stroke-opacity="0.07" stroke-width="1"/>
<line x1="475.39" y1="159.97" x2="475.39" y2="190.99" stroke="#fff" stroke-opacity="0.07" stroke-width="1"/>
<line x1="442.04" y1="190.99" x2="475.39" y2="190.99" stroke="#fff" stroke-opacity="0.07" stroke-width="1"/>
<line x1="508.73" y1="159.97" x2="508.73" y2="190.99" stroke="#fff" stroke-opacity="0.07" stroke-width="1"/>
<line x1="475.39" y1="190.99" x2="508.73" y2="190.99" stroke="#fff" stroke-opacity="0.07" stroke-width="1"/>
<line x1="542.07" y1="159.97" x2="542.07" y2="190.99" stroke="#fff" stroke-opacity="0.07" stroke-width="1"/>
<line x1="508.73" y1="190.99" x2="542.07" y2="190.99" stroke="#fff" stroke-opacity="0.07" stroke-width="1"/>
<line x1="542.07" y1="190.99" x2="575.41" y2="190.99" stroke="#fff" stroke-opacity="0.07" stroke-width="1"/>
<line x1="442.04" y1="190.99" x2="442.04" y2="222.00" stroke="#fff" stroke-opacity="0.07" stroke-width="1"/>
<line x1="475.39" y1="190.99" x2="475.39" y2="222.00" stroke="#fff" stroke-opacity="0.07" stroke-width="1"/>
<line x1="508.73" y1="190.99" x2="508.73" y2="222.00" stroke="#fff" stroke-opacity="0.07" stroke-width="1"/>
<line x1="542.07" y1="190.99" x2="542.07" y2="222.00" stroke="#fff" stroke-opacity="0.07" stroke-width="1"/>
<line x1="575.41" y1="190.99" x2="575.41" y2="222.00" stroke="#fff" stroke-opacity="0.07" stroke-width="1"/>
<line x1="405.60" y1="20.56" x2="408.70" y2="20.56" stroke="#000" stroke-width="1.25"/>
<text transform="matrix(1 0.001 0 1 402.80 22.86)" text-anchor="end" fill="#000" stroke="#000" stroke-width="0.25">DesiRNA</text>
<line x1="405.60" y1="51.57" x2="408.70" y2="51.57" stroke="#000" stroke-width="1.25"/>
<text transform="matrix(1 0.001 0 1 402.80 53.87)" text-anchor="end" fill="#000" stroke="#000" stroke-width="0.25">Meta-LEARNA</text>
<line x1="405.60" y1="82.59" x2="408.70" y2="82.59" stroke="#000" stroke-width="1.25"/>
<text transform="matrix(1 0.001 0 1 402.80 84.89)" text-anchor="end" fill="#000" stroke="#000" stroke-width="0.25">RNAinverse</text>
<line x1="405.60" y1="113.60" x2="408.70" y2="113.60" stroke="#000" stroke-width="1.25"/>
<text transform="matrix(1 0.001 0 1 402.80 115.90)" text-anchor="end" fill="#000" stroke="#000" stroke-width="0.25">DSS-Opt</text>
<line x1="405.60" y1="144.61" x2="408.70" y2="144.61" stroke="#000" stroke-width="1.25"/>
<text transform="matrix(1 0.001 0 1 402.80 146.91)" text-anchor="end" fill="#000" stroke="#000" stroke-width="0.25">INFO-RNA</text>
<line x1="405.60" y1="175.63" x2="408.70" y2="175.63" stroke="#000" stroke-width="1.25"/>
<text transform="matrix(1 0.001 0 1 402.80 177.93)" text-anchor="end" fill="#000" stroke="#000" stroke-width="0.25">RNAsfbinv</text>
<line x1="405.60" y1="206.64" x2="408.70" y2="206.64" stroke="#000" stroke-width="1.25"/>
<text transform="matrix(1 0.001 0 1 402.80 208.94)" text-anchor="end" fill="#000" stroke="#000" stroke-width="0.25">RNARedPrint</text>
<line x1="425.37" y1="222.00" x2="425.37" y2="224.90" stroke="#000" stroke-width="1.25"/>
<text transform="translate(427.42,227.90) rotate(-90) matrix(1 0.001 0 1 0 0)" text-anchor="end" fill="#000" stroke="#000" stroke-width="0.25">DesiRNA</text>
<line x1="458.71" y1="222.00" x2="458.71" y2="224.90" stroke="#000" stroke-width="1.25"/>
<text transform="translate(460.76,227.90) rotate(-90) matrix(1 0.001 0 1 0 0)" text-anchor="end" fill="#000" stroke="#000" stroke-width="0.25">Meta-LEARNA</text>
<line x1="492.06" y1="222.00" x2="492.06" y2="224.90" stroke="#000" stroke-width="1.25"/>
<text transform="translate(494.11,227.90) rotate(-90) matrix(1 0.001 0 1 0 0)" text-anchor="end" fill="#000" stroke="#000" stroke-width="0.25">RNAinverse</text>
<line x1="525.40" y1="222.00" x2="525.40" y2="224.90" stroke="#000" stroke-width="1.25"/>
<text transform="translate(527.45,227.90) rotate(-90) matrix(1 0.001 0 1 0 0)" text-anchor="end" fill="#000" stroke="#000" stroke-width="0.25">DSS-Opt</text>
<line x1="558.74" y1="222.00" x2="558.74" y2="224.90" stroke="#000" stroke-width="1.25"/>
<text transform="translate(560.79,227.90) rotate(-90) matrix(1 0.001 0 1 0 0)" text-anchor="end" fill="#000" stroke="#000" stroke-width="0.25">INFO-RNA</text>
<line x1="592.09" y1="222.00" x2="592.09" y2="224.90" stroke="#000" stroke-width="1.25"/>
<text transform="translate(594.14,227.90) rotate(-90) matrix(1 0.001 0 1 0 0)" text-anchor="end" fill="#000" stroke="#000" stroke-width="0.25">RNAsfbinv</text>
<line x1="625.43" y1="222.00" x2="625.43" y2="224.90" stroke="#000" stroke-width="1.25"/>
<text transform="translate(627.48,227.90) rotate(-90) matrix(1 0.001 0 1 0 0)" text-anchor="end" fill="#000" stroke="#000" stroke-width="0.25">RNARedPrint</text>
<rect x="656.45" y="4.90" width="11.85" height="217.10" fill="url(#cw)"/>
<line x1="668.30" y1="222.10" x2="671.30" y2="222.10" stroke="#000" stroke-width="1.25"/>
<text transform="matrix(1 0.001 0 1 673.50 225.15)" text-anchor="start" fill="#000" stroke="#000" stroke-width="0.25" font-size="8.15">0.0</text>
<line x1="668.30" y1="178.68" x2="671.30" y2="178.68" stroke="#000" stroke-width="1.25"/>
<text transform="matrix(1 0.001 0 1 673.50 181.73)" text-anchor="start" fill="#000" stroke="#000" stroke-width="0.25" font-size="8.15">0.2</text>
<line x1="668.30" y1="135.26" x2="671.30" y2="135.26" stroke="#000" stroke-width="1.25"/>
<text transform="matrix(1 0.001 0 1 673.50 138.31)" text-anchor="start" fill="#000" stroke="#000" stroke-width="0.25" font-size="8.15">0.4</text>
<line x1="668.30" y1="91.84" x2="671.30" y2="91.84" stroke="#000" stroke-width="1.25"/>
<text transform="matrix(1 0.001 0 1 673.50 94.89)" text-anchor="start" fill="#000" stroke="#000" stroke-width="0.25" font-size="8.15">0.6</text>
<line x1="668.30" y1="48.42" x2="671.30" y2="48.42" stroke="#000" stroke-width="1.25"/>
<text transform="matrix(1 0.001 0 1 673.50 51.47)" text-anchor="start" fill="#000" stroke="#000" stroke-width="0.25" font-size="8.15">0.8</text>
<line x1="668.30" y1="5.00" x2="671.30" y2="5.00" stroke="#000" stroke-width="1.25"/>
<text transform="matrix(1 0.001 0 1 673.50 8.05)" text-anchor="start" fill="#000" stroke="#000" stroke-width="0.25" font-size="8.15">1.0</text>
<text transform="matrix(1.05 0.001 0 1 345.95 11.75)" font-size="16.6" fill="#000" stroke="#000" stroke-width="0.1">B</text>
<rect x="94.64" y="296.00" width="33.94" height="31.00" fill="#3b4cc0"/>
<rect x="127.99" y="296.00" width="33.94" height="31.60" fill="#3b4cc0"/>
<rect x="161.33" y="296.00" width="33.94" height="31.60" fill="#3b4cc0"/>
<rect x="194.67" y="296.00" width="33.94" height="31.60" fill="#3b4cc0"/>
<rect x="228.01" y="296.00" width="33.94" height="31.60" fill="#3b4cc0"/>
<rect x="261.36" y="296.00" width="33.34" height="31.60" fill="#3b4cc0"/>
<rect x="61.30" y="327.00" width="33.34" height="31.60" fill="#b40426"/>
<rect x="127.99" y="327.00" width="33.94" height="31.00" fill="#adc9fd"/>
<rect x="161.33" y="327.00" width="33.94" height="31.60" fill="#4055c8"/>
<rect x="194.67" y="327.00" width="33.94" height="31.60" fill="#3b4cc0"/>
<rect x="228.01" y="327.00" width="33.94" height="31.60" fill="#3b4cc0"/>
<rect x="261.36" y="327.00" width="33.34" height="31.60" fill="#3b4cc0"/>
<rect x="61.30" y="358.00" width="33.94" height="31.60" fill="#b40426"/>
<rect x="94.64" y="358.00" width="33.34" height="31.60" fill="#f7ba9f"/>
<rect x="161.33" y="358.00" width="33.94" height="31.00" fill="#6384eb"/>
<rect x="194.67" y="358.00" width="33.94" height="31.60" fill="#3b4cc0"/>
<rect x="228.01" y="358.00" width="33.94" height="31.60" fill="#3b4cc0"/>
<rect x="261.36" y="358.00" width="33.34" height="31.60" fill="#3b4cc0"/>
<rect x="61.30" y="389.00" width="33.94" height="31.60" fill="#b40426"/>
<rect x="94.64" y="389.00" width="33.94" height="31.60" fill="#bb1b2c"/>
<rect x="127.99" y="389.00" width="33.34" height="31.60" fill="#df634e"/>
<rect x="194.67" y="389.00" width="33.94" height="31.00" fill="#4055c8"/>
<rect x="228.01" y="389.00" width="33.94" height="31.60" fill="#3b4cc0"/>
<rect x="261.36" y="389.00" width="33.34" height="31.60" fill="#3b4cc0"/>
<rect x="61.30" y="420.00" width="33.94" height="31.60" fill="#b40426"/>
<rect x="94.64" y="420.00" width="33.94" height="31.60" fill="#b40426"/>
<rect x="127.99" y="420.00" width="33.94" height="31.60" fill="#b40426"/>
<rect x="161.33" y="420.00" width="33.34" height="31.60" fill="#bb1b2c"/>
<rect x="228.01" y="420.00" width="33.94" height="31.00" fill="#4f69d9"/>
<rect x="261.36" y="420.00" width="33.34" height="31.60" fill="#3b4cc0"/>
<rect x="61.30" y="451.00" width="33.94" height="31.60" fill="#b40426"/>
<rect x="94.64" y="451.00" width="33.94" height="31.60" fill="#b40426"/>
<rect x="127.99" y="451.00" width="33.94" height="31.60" fill="#b40426"/>
<rect x="161.33" y="451.00" width="33.94" height="31.60" fill="#b40426"/>
<rect x="194.67" y="451.00" width="33.34" height="31.60" fill="#cc403a"/>
<rect x="261.36" y="451.00" width="33.34" height="31.00" fill="#485fd1"/>
<rect x="61.30" y="482.00" width="33.94" height="31.00" fill="#b40426"/>
<rect x="94.64" y="482.00" width="33.94" height="31.00" fill="#b40426"/>
<rect x="127.99" y="482.00" width="33.94" height="31.00" fill="#b40426"/>
<rect x="161.33" y="482.00" width="33.94" height="31.00" fill="#b40426"/>
<rect x="194.67" y="482.00" width="33.94" height="31.00" fill="#b40426"/>
<rect x="228.01" y="482.00" width="33.34" height="31.00" fill="#c53334"/>
<text transform="matrix(1 0.001 0 1 111.31 313.95)" text-anchor="middle" fill="#ffffff" fill-opacity="0.95">3e-20</text>
<text transform="matrix(1 0.001 0 1 144.66 313.95)" text-anchor="middle" fill="#ffffff" fill-opacity="0.95">2.6e-16</text>
<text transform="matrix(1 0.001 0 1 178.00 313.95)" text-anchor="middle" fill="#ffffff" fill-opacity="0.95">6e-15</text>
<text transform="matrix(1 0.001 0 1 211.34 313.95)" text-anchor="middle" fill="#ffffff" fill-opacity="0.95">1.5e-17</text>
<text transform="matrix(1 0.001 0 1 244.69 313.95)" text-anchor="middle" fill="#ffffff" fill-opacity="0.95">5.2e-24</text>
<text transform="matrix(1 0.001 0 1 278.03 313.95)" text-anchor="middle" fill="#ffffff" fill-opacity="0.95">5.7e-25</text>
<text transform="matrix(1 0.001 0 1 77.97 344.95)" text-anchor="middle" fill="#ffffff" fill-opacity="0.95">1</text>
<text transform="matrix(1 0.001 0 1 144.66 344.95)" text-anchor="middle" fill="#262626" stroke="#262626" stroke-width="0.12">0.34</text>
<text transform="matrix(1 0.001 0 1 178.00 344.95)" text-anchor="middle" fill="#ffffff" fill-opacity="0.95">0.021</text>
<text transform="matrix(1 0.001 0 1 211.34 344.95)" text-anchor="middle" fill="#ffffff" fill-opacity="0.95">0.00058</text>
<text transform="matrix(1 0.001 0 1 244.69 344.95)" text-anchor="middle" fill="#ffffff" fill-opacity="0.95">5.9e-14</text>
<text transform="matrix(1 0.001 0 1 278.03 344.95)" text-anchor="middle" fill="#ffffff" fill-opacity="0.95">1.1e-08</text>
<text transform="matrix(1 0.001 0 1 77.97 375.95)" text-anchor="middle" fill="#ffffff" fill-opacity="0.95">1</text>
<text transform="matrix(1 0.001 0 1 111.31 375.95)" text-anchor="middle" fill="#262626" stroke="#262626" stroke-width="0.12">0.66</text>
<text transform="matrix(1 0.001 0 1 178.00 375.95)" text-anchor="middle" fill="#ffffff" fill-opacity="0.95">0.13</text>
<text transform="matrix(1 0.001 0 1 211.34 375.95)" text-anchor="middle" fill="#ffffff" fill-opacity="0.95">0.0029</text>
<text transform="matrix(1 0.001 0 1 244.69 375.95)" text-anchor="middle" fill="#ffffff" fill-opacity="0.95">3.1e-08</text>
<text transform="matrix(1 0.001 0 1 278.03 375.95)" text-anchor="middle" fill="#ffffff" fill-opacity="0.95">6.8e-07</text>
<text transform="matrix(1 0.001 0 1 77.97 406.95)" text-anchor="middle" fill="#ffffff" fill-opacity="0.95">1</text>
<text transform="matrix(1 0.001 0 1 111.31 406.95)" text-anchor="middle" fill="#ffffff" fill-opacity="0.95">0.98</text>
<text transform="matrix(1 0.001 0 1 144.66 406.95)" text-anchor="middle" fill="#ffffff" fill-opacity="0.95">0.87</text>
<text transform="matrix(1 0.001 0 1 211.34 406.95)" text-anchor="middle" fill="#ffffff" fill-opacity="0.95">0.021</text>
<text transform="matrix(1 0.001 0 1 244.69 406.95)" text-anchor="middle" fill="#ffffff" fill-opacity="0.95">5.8e-05</text>
<text transform="matrix(1 0.001 0 1 278.03 406.95)" text-anchor="middle" fill="#ffffff" fill-opacity="0.95">1.7e-08</text>
<text transform="matrix(1 0.001 0 1 77.97 437.95)" text-anchor="middle" fill="#ffffff" fill-opacity="0.95">1</text>
<text transform="matrix(1 0.001 0 1 111.31 437.95)" text-anchor="middle" fill="#ffffff" fill-opacity="0.95">1</text>
<text transform="matrix(1 0.001 0 1 144.66 437.95)" text-anchor="middle" fill="#ffffff" fill-opacity="0.95">1</text>
<text transform="matrix(1 0.001 0 1 178.00 437.95)" text-anchor="middle" fill="#ffffff" fill-opacity="0.95">0.98</text>
<text transform="matrix(1 0.001 0 1 244.69 437.95)" text-anchor="middle" fill="#ffffff" fill-opacity="0.95">0.069</text>
<text transform="matrix(1 0.001 0 1 278.03 437.95)" text-anchor="middle" fill="#ffffff" fill-opacity="0.95">0.0012</text>
<text transform="matrix(1 0.001 0 1 77.97 468.95)" text-anchor="middle" fill="#ffffff" fill-opacity="0.95">1</text>
<text transform="matrix(1 0.001 0 1 111.31 468.95)" text-anchor="middle" fill="#ffffff" fill-opacity="0.95">1</text>
<text transform="matrix(1 0.001 0 1 144.66 468.95)" text-anchor="middle" fill="#ffffff" fill-opacity="0.95">1</text>
<text transform="matrix(1 0.001 0 1 178.00 468.95)" text-anchor="middle" fill="#ffffff" fill-opacity="0.95">1</text>
<text transform="matrix(1 0.001 0 1 211.34 468.95)" text-anchor="middle" fill="#ffffff" fill-opacity="0.95">0.93</text>
<text transform="matrix(1 0.001 0 1 278.03 468.95)" text-anchor="middle" fill="#ffffff" fill-opacity="0.95">0.046</text>
<text transform="matrix(1 0.001 0 1 77.97 499.95)" text-anchor="middle" fill="#ffffff" fill-opacity="0.95">1</text>
<text transform="matrix(1 0.001 0 1 111.31 499.95)" text-anchor="middle" fill="#ffffff" fill-opacity="0.95">1</text>
<text transform="matrix(1 0.001 0 1 144.66 499.95)" text-anchor="middle" fill="#ffffff" fill-opacity="0.95">1</text>
<text transform="matrix(1 0.001 0 1 178.00 499.95)" text-anchor="middle" fill="#ffffff" fill-opacity="0.95">1</text>
<text transform="matrix(1 0.001 0 1 211.34 499.95)" text-anchor="middle" fill="#ffffff" fill-opacity="0.95">1</text>
<text transform="matrix(1 0.001 0 1 244.69 499.95)" text-anchor="middle" fill="#ffffff" fill-opacity="0.95">0.95</text>
<line x1="127.99" y1="296.00" x2="127.99" y2="327.00" stroke="#fff" stroke-opacity="0.07" stroke-width="1"/>
<line x1="161.33" y1="296.00" x2="161.33" y2="327.00" stroke="#fff" stroke-opacity="0.07" stroke-width="1"/>
<line x1="127.99" y1="327.00" x2="161.33" y2="327.00" stroke="#fff" stroke-opacity="0.07" stroke-width="1"/>
<line x1="194.67" y1="296.00" x2="194.67" y2="327.00" stroke="#fff" stroke-opacity="0.07" stroke-width="1"/>
<line x1="161.33" y1="327.00" x2="194.67" y2="327.00" stroke="#fff" stroke-opacity="0.07" stroke-width="1"/>
<line x1="228.01" y1="296.00" x2="228.01" y2="327.00" stroke="#fff" stroke-opacity="0.07" stroke-width="1"/>
<line x1="194.67" y1="327.00" x2="228.01" y2="327.00" stroke="#fff" stroke-opacity="0.07" stroke-width="1"/>
<line x1="261.36" y1="296.00" x2="261.36" y2="327.00" stroke="#fff" stroke-opacity="0.07" stroke-width="1"/>
<line x1="228.01" y1="327.00" x2="261.36" y2="327.00" stroke="#fff" stroke-opacity="0.07" stroke-width="1"/>
<line x1="261.36" y1="327.00" x2="294.70" y2="327.00" stroke="#fff" stroke-opacity="0.07" stroke-width="1"/>
<line x1="61.30" y1="358.00" x2="94.64" y2="358.00" stroke="#fff" stroke-opacity="0.07" stroke-width="1"/>
<line x1="161.33" y1="327.00" x2="161.33" y2="358.00" stroke="#fff" stroke-opacity="0.07" stroke-width="1"/>
<line x1="194.67" y1="327.00" x2="194.67" y2="358.00" stroke="#fff" stroke-opacity="0.07" stroke-width="1"/>
<line x1="161.33" y1="358.00" x2="194.67" y2="358.00" stroke="#fff" stroke-opacity="0.07" stroke-width="1"/>
<line x1="228.01" y1="327.00" x2="228.01" y2="358.00" stroke="#fff" stroke-opacity="0.07" stroke-width="1"/>
<line x1="194.67" y1="358.00" x2="228.01" y2="358.00" stroke="#fff" stroke-opacity="0.07" stroke-width="1"/>
<line x1="261.36" y1="327.00" x2="261.36" y2="358.00" stroke="#fff" stroke-opacity="0.07" stroke-width="1"/>
<line x1="228.01" y1="358.00" x2="261.36" y2="358.00" stroke="#fff" stroke-opacity="0.07" stroke-width="1"/>
<line x1="261.36" y1="358.00" x2="294.70" y2="358.00" stroke="#fff" stroke-opacity="0.07" stroke-width="1"/>
<line x1="94.64" y1="358.00" x2="94.64" y2="389.00" stroke="#fff" stroke-opacity="0.07" stroke-width="1"/>
<line x1="61.30" y1="389.00" x2="94.64" y2="389.00" stroke="#fff" stroke-opacity="0.07" stroke-width="1"/>
<line x1="94.64" y1="389.00" x2="127.99" y2="389.00" stroke="#fff" stroke-opacity="0.07" stroke-width="1"/>
<line x1="194.67" y1="358.00" x2="194.67" y2="389.00" stroke="#fff" stroke-opacity="0.07" stroke-width="1"/>
<line x1="228.01" y1="358.00" x2="228.01" y2="389.00" stroke="#fff" stroke-opacity="0.07" stroke-width="1"/>
<line x1="194.67" y1="389.00" x2="228.01" y2="389.00" stroke="#fff" stroke-opacity="0.07" stroke-width="1"/>
<line x1="261.36" y1="358.00" x2="261.36" y2="389.00" stroke="#fff" stroke-opacity="0.07" stroke-width="1"/>
<line x1="228.01" y1="389.00" x2="261.36" y2="389.00" stroke="#fff" stroke-opacity="0.07" stroke-width="1"/>
<line x1="261.36" y1="389.00" x2="294.70" y2="389.00" stroke="#fff" stroke-opacity="0.07" stroke-width="1"/>
<line x1="94.64" y1="389.00" x2="94.64" y2="420.00" stroke="#fff" stroke-opacity="0.07" stroke-width="1"/>
<line x1="61.30" y1="420.00" x2="94.64" y2="420.00" stroke="#fff" stroke-opacity="0.07" stroke-width="1"/>
<line x1="127.99" y1="389.00" x2="127.99" y2="420.00" stroke="#fff" stroke-opacity="0.07" stroke-width="1"/>
<line x1="94.64" y1="420.00" x2="127.99" y2="420.00" stroke="#fff" stroke-opacity="0.07" stroke-width="1"/>
<line x1="127.99" y1="420.00" x2="161.33" y2="420.00" stroke="#fff" stroke-opacity="0.07" stroke-width="1"/>
<line x1="228.01" y1="389.00" x2="228.01" y2="420.00" stroke="#fff" stroke-opacity="0.07" stroke-width="1"/>
<line x1="261.36" y1="389.00" x2="261.36" y2="420.00" stroke="#fff" stroke-opacity="0.07" stroke-width="1"/>
<line x1="228.01" y1="420.00" x2="261.36" y2="420.00" stroke="#fff" stroke-opacity="0.07" stroke-width="1"/>
<line x1="261.36" y1="420.00" x2="294.70" y2="420.00" stroke="#fff" stroke-opacity="0.07" stroke-width="1"/>
<line x1="94.64" y1="420.00" x2="94.64" y2="451.00" stroke="#fff" stroke-opacity="0.07" stroke-width="1"/>
<line x1="61.30" y1="451.00" x2="94.64" y2="451.00" stroke="#fff" stroke-opacity="0.07" stroke-width="1"/>
<line x1="127.99" y1="420.00" x2="127.99" y2="451.00" stroke="#fff" stroke-opacity="0.07" stroke-width="1"/>
<line x1="94.64" y1="451.00" x2="127.99" y2="451.00" stroke="#fff" stroke-opacity="0.07" stroke-width="1"/>
<line x1="161.33" y1="420.00" x2="161.33" y2="451.00" stroke="#fff" stroke-opacity="0.07" stroke-width="1"/>
<line x1="127.99" y1="451.00" x2="161.33" y2="451.00" stroke="#fff" stroke-opacity="0.07" stroke-width="1"/>
<line x1="161.33" y1="451.00" x2="194.67" y2="451.00" stroke="#fff" stroke-opacity="0.07" stroke-width="1"/>
<line x1="261.36" y1="420.00" x2="261.36" y2="451.00" stroke="#fff" stroke-opacity="0.07" stroke-width="1"/>
<line x1="261.36" y1="451.00" x2="294.70" y2="451.00" stroke="#fff" stroke-opacity="0.07" stroke-width="1"/>
<line x1="94.64" y1="451.00" x2="94.64" y2="482.00" stroke="#fff" stroke-opacity="0.07" stroke-width="1"/>
<line x1="61.30" y1="482.00" x2="94.64" y2="482.00" stroke="#fff" stroke-opacity="0.07" stroke-width="1"/>
<line x1="127.99" y1="451.00" x2="127.99" y2="482.00" stroke="#fff" stroke-opacity="0.07" stroke-width="1"/>
<line x1="94.64" y1="482.00" x2="127.99" y2="482.00" stroke="#fff" stroke-opacity="0.07" stroke-width="1"/>
<line x1="161.33" y1="451.00" x2="161.33" y2="482.00" stroke="#fff" stroke-opacity="0.07" stroke-width="1"/>
<line x1="127.99" y1="482.00" x2="161.33" y2="482.00" stroke="#fff" stroke-opacity="0.07" stroke-width="1"/>
<line x1="194.67" y1="451.00" x2="194.67" y2="482.00" stroke="#fff" stroke-opacity="0.07" stroke-width="1"/>
<line x1="161.33" y1="482.00" x2="194.67" y2="482.00" stroke="#fff" stroke-opacity="0.07" stroke-width="1"/>
<line x1="194.67" y1="482.00" x2="228.01" y2="482.00" stroke="#fff" stroke-opacity="0.07" stroke-width="1"/>
<line x1="94.64" y1="482.00" x2="94.64" y2="513.00" stroke="#fff" stroke-opacity="0.07" stroke-width="1"/>
<line x1="127.99" y1="482.00" x2="127.99" y2="513.00" stroke="#fff" stroke-opacity="0.07" stroke-width="1"/>
<line x1="161.33" y1="482.00" x2="161.33" y2="513.00" stroke="#fff" stroke-opacity="0.07" stroke-width="1"/>
<line x1="194.67" y1="482.00" x2="194.67" y2="513.00" stroke="#fff" stroke-opacity="0.07" stroke-width="1"/>
<line x1="228.01" y1="482.00" x2="228.01" y2="513.00" stroke="#fff" stroke-opacity="0.07" stroke-width="1"/>
<line x1="58.20" y1="311.65" x2="61.30" y2="311.65" stroke="#000" stroke-width="1.25"/>
<text transform="matrix(1 0.001 0 1 55.40 313.95)" text-anchor="end" fill="#000" stroke="#000" stroke-width="0.25">DesiRNA</text>
<line x1="58.20" y1="342.65" x2="61.30" y2="342.65" stroke="#000" stroke-width="1.25"/>
<text transform="matrix(1 0.001 0 1 55.40 344.95)" text-anchor="end" fill="#000" stroke="#000" stroke-width="0.25">RNAinverse</text>
<line x1="58.20" y1="373.65" x2="61.30" y2="373.65" stroke="#000" stroke-width="1.25"/>
<text transform="matrix(1 0.001 0 1 55.40 375.95)" text-anchor="end" fill="#000" stroke="#000" stroke-width="0.25">Meta-LEARNA</text>
<line x1="58.20" y1="404.65" x2="61.30" y2="404.65" stroke="#000" stroke-width="1.25"/>
<text transform="matrix(1 0.001 0 1 55.40 406.95)" text-anchor="end" fill="#000" stroke="#000" stroke-width="0.25">DSS-Opt</text>
<line x1="58.20" y1="435.65" x2="61.30" y2="435.65" stroke="#000" stroke-width="1.25"/>
<text transform="matrix(1 0.001 0 1 55.40 437.95)" text-anchor="end" fill="#000" stroke="#000" stroke-width="0.25">INFO-RNA</text>
<line x1="58.20" y1="466.65" x2="61.30" y2="466.65" stroke="#000" stroke-width="1.25"/>
<text transform="matrix(1 0.001 0 1 55.40 468.95)" text-anchor="end" fill="#000" stroke="#000" stroke-width="0.25">RNARedPrint</text>
<line x1="58.20" y1="497.65" x2="61.30" y2="497.65" stroke="#000" stroke-width="1.25"/>
<text transform="matrix(1 0.001 0 1 55.40 499.95)" text-anchor="end" fill="#000" stroke="#000" stroke-width="0.25">RNAsfbinv</text>
<line x1="77.97" y1="513.00" x2="77.97" y2="515.90" stroke="#000" stroke-width="1.25"/>
<text transform="translate(80.02,518.90) rotate(-90) matrix(1 0.001 0 1 0 0)" text-anchor="end" fill="#000" stroke="#000" stroke-width="0.25">DesiRNA</text>
<line x1="111.31" y1="513.00" x2="111.31" y2="515.90" stroke="#000" stroke-width="1.25"/>
<text transform="translate(113.36,518.90) rotate(-90) matrix(1 0.001 0 1 0 0)" text-anchor="end" fill="#000" stroke="#000" stroke-width="0.25">RNAinverse</text>
<line x1="144.66" y1="513.00" x2="144.66" y2="515.90" stroke="#000" stroke-width="1.25"/>
<text transform="translate(146.71,518.90) rotate(-90) matrix(1 0.001 0 1 0 0)" text-anchor="end" fill="#000" stroke="#000" stroke-width="0.25">Meta-LEARNA</text>
<line x1="178.00" y1="513.00" x2="178.00" y2="515.90" stroke="#000" stroke-width="1.25"/>
<text transform="translate(180.05,518.90) rotate(-90) matrix(1 0.001 0 1 0 0)" text-anchor="end" fill="#000" stroke="#000" stroke-width="0.25">DSS-Opt</text>
<line x1="211.34" y1="513.00" x2="211.34" y2="515.90" stroke="#000" stroke-width="1.25"/>
<text transform="translate(213.39,518.90) rotate(-90) matrix(1 0.001 0 1 0 0)" text-anchor="end" fill="#000" stroke="#000" stroke-width="0.25">INFO-RNA</text>
<line x1="244.69" y1="513.00" x2="244.69" y2="515.90" stroke="#000" stroke-width="1.25"/>
<text transform="translate(246.74,518.90) rotate(-90) matrix(1 0.001 0 1 0 0)" text-anchor="end" fill="#000" stroke="#000" stroke-width="0.25">RNARedPrint</text>
<line x1="278.03" y1="513.00" x2="278.03" y2="515.90" stroke="#000" stroke-width="1.25"/>
<text transform="translate(280.08,518.90) rotate(-90) matrix(1 0.001 0 1 0 0)" text-anchor="end" fill="#000" stroke="#000" stroke-width="0.25">RNAsfbinv</text>
<rect x="309.10" y="296.00" width="11.70" height="217.00" fill="url(#cw)"/>
<line x1="320.80" y1="513.10" x2="323.80" y2="513.10" stroke="#000" stroke-width="1.25"/>
<text transform="matrix(1 0.001 0 1 326.25 516.15)" text-anchor="start" fill="#000" stroke="#000" stroke-width="0.25" font-size="8.15">0.0</text>
<line x1="320.80" y1="469.70" x2="323.80" y2="469.70" stroke="#000" stroke-width="1.25"/>
<text transform="matrix(1 0.001 0 1 326.25 472.75)" text-anchor="start" fill="#000" stroke="#000" stroke-width="0.25" font-size="8.15">0.2</text>
<line x1="320.80" y1="426.30" x2="323.80" y2="426.30" stroke="#000" stroke-width="1.25"/>
<text transform="matrix(1 0.001 0 1 326.25 429.35)" text-anchor="start" fill="#000" stroke="#000" stroke-width="0.25" font-size="8.15">0.4</text>
<line x1="320.80" y1="382.90" x2="323.80" y2="382.90" stroke="#000" stroke-width="1.25"/>
<text transform="matrix(1 0.001 0 1 326.25 385.95)" text-anchor="start" fill="#000" stroke="#000" stroke-width="0.25" font-size="8.15">0.6</text>
<line x1="320.80" y1="339.50" x2="323.80" y2="339.50" stroke="#000" stroke-width="1.25"/>
<text transform="matrix(1 0.001 0 1 326.25 342.55)" text-anchor="start" fill="#000" stroke="#000" stroke-width="0.25" font-size="8.15">0.8</text>
<line x1="320.80" y1="296.10" x2="323.80" y2="296.10" stroke="#000" stroke-width="1.25"/>
<text transform="matrix(1 0.001 0 1 326.25 299.15)" text-anchor="start" fill="#000" stroke="#000" stroke-width="0.25" font-size="8.15">1.0</text>
<text transform="matrix(1.05 0.001 0 1 -1.10 303.00)" font-size="16.6" fill="#000" stroke="#000" stroke-width="0.1">C</text>
</g>
</svg>
</body></html>
